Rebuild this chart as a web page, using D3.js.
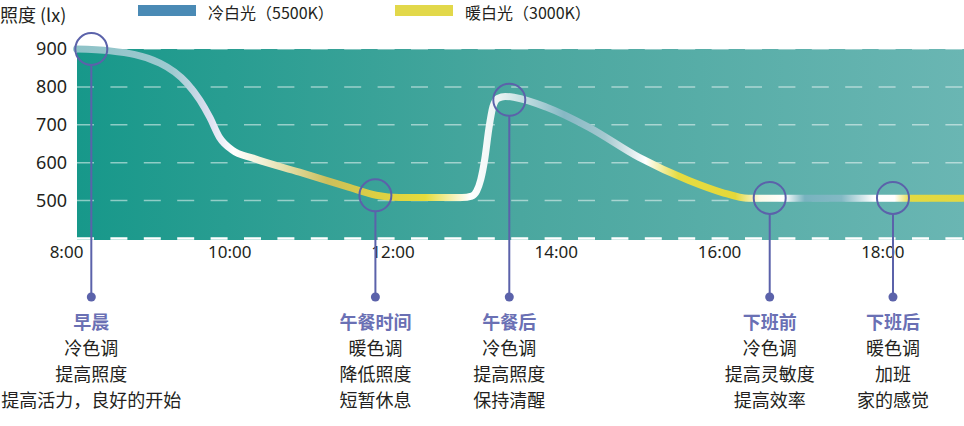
<!DOCTYPE html>
<html>
<head>
<meta charset="utf-8">
<script src="https://cdn.jsdelivr.net/npm/d3@7"></script>
<style>
    body { margin: 0; background: #fff; }
    svg { display: block; font-family: "Noto Sans CJK SC", "Noto Sans", sans-serif; }
</style>
</head>
<body>
<div id="chart"></div>
<script>
// illuminance curve over the working day (hour, lux)
var curveHours = [8.13, 8.54, 9.15, 9.48, 9.64, 9.76, 9.88, 10.04, 10.29, 10.86, 11.47, 11.8, 12.08, 12.85,
    12.97, 13.03, 13.08, 13.13, 13.18, 13.23, 13.29, 13.38, 13.5, 13.88, 14.4, 15.02, 15.63, 16.03, 16.36, 19];
var curveLux = [900, 895, 863, 810, 765, 720, 667, 633, 612, 575, 535, 514, 508, 508,
    512, 525, 555, 610, 690, 748, 770, 775, 772, 747, 694, 614, 553, 522, 506, 506];

var yTicks = [500, 600, 700, 800, 900];
var gridValues = [400, 500, 600, 700, 800, 900];
var xTicks = [8, 10, 12, 14, 16, 18];
var xTickLabels = ["8:00", "10:00", "12:00", "14:00", "16:00", "18:00"];

var legendLabels = ["冷白光（5500K）", "暖白光（3000K）"];

// markers on the curve and their notes
var noteHours = [8.31, 11.79, 13.43, 16.62, 18.13];
var noteLux = [900, 514, 766, 507, 507];
var noteTitles = ["早晨", "午餐时间", "午餐后", "下班前", "下班后"];
var noteLines = [
    ["冷色调", "提高照度", "提高活力，良好的开始"],
    ["暖色调", "降低照度", "短暂休息"],
    ["冷色调", "提高照度", "保持清醒"],
    ["冷色调", "提高灵敏度", "提高效率"],
    ["暖色调", "加班", "家的感觉"]
];

var width = 964, height = 426;
var plotLeft = 77, plotRight = 964, plotTop = 49, plotBottom = 240;

var svg = d3.select("#chart")
    .append("svg")
    .attr("width", width)
    .attr("height", height);

var x = d3.scaleLinear().domain([8, 19]).range([66, 964]);
var y = d3.scaleLinear().domain([400, 900]).range([238.5, 49]);

var defs = svg.append("defs");

// background teal gradient
var bg = defs.append("linearGradient")
    .attr("id", "bgGrad")
    .attr("x1", "0%").attr("x2", "100%").attr("y1", "0%").attr("y2", "0%");
bg.append("stop").attr("offset", "0%").attr("stop-color", "#17988a");
bg.append("stop").attr("offset", "50%").attr("stop-color", "#4aa79f");
bg.append("stop").attr("offset", "100%").attr("stop-color", "#6ab6b3");

// colour of the light along the curve (by hour)
var lineStops = [
    [8.1, "#8dc2c7"], [9.3, "#9ecad0"], [9.75, "#dcdff0"], [10.05, "#ffffff"], [10.4, "#f1f0d6"],
    [11.2, "#cbbf5c"], [11.8, "#dccf42"], [12.4, "#e6dc3c"], [12.95, "#ffffff"], [13.3, "#eaf3f3"],
    [13.6, "#c4dfe2"], [14.1, "#86b8c4"], [14.6, "#a4c8cf"], [15.1, "#ffffff"], [15.5, "#e6dc40"],
    [16.2, "#e4d83a"], [16.5, "#fbfae8"], [16.8, "#ffffff"], [17.05, "#78b3bf"], [17.5, "#83b9c4"],
    [17.9, "#ffffff"], [18.15, "#ffffff"], [18.35, "#e4da40"], [19, "#e2d840"]
];
var lg = defs.append("linearGradient")
    .attr("id", "lineGrad")
    .attr("gradientUnits", "userSpaceOnUse")
    .attr("x1", x(8)).attr("x2", x(19)).attr("y1", 0).attr("y2", 0);
lg.selectAll("stop")
    .data(lineStops)
    .enter()
    .append("stop")
    .attr("offset", function (d) { return ((d[0] - 8) / 11 * 100) + "%"; })
    .attr("stop-color", function (d) { return d[1]; });

svg.append("rect")
    .attr("x", plotLeft)
    .attr("y", plotTop)
    .attr("width", plotRight - plotLeft)
    .attr("height", plotBottom - plotTop)
    .attr("fill", "url(#bgGrad)");

// dashed grid
svg.selectAll(".grid")
    .data(gridValues)
    .enter()
    .append("line")
    .attr("class", "grid")
    .attr("x1", plotLeft)
    .attr("x2", plotRight)
    .attr("y1", function (d) { return y(d); })
    .attr("y2", function (d) { return y(d); })
    .attr("stroke", "#ffffff")
    .attr("stroke-opacity", function (d) { return d === 400 ? 1 : 0.5; })
    .attr("stroke-width", function (d) { return d === 400 ? 2.5 : 1.5; })
    .attr("stroke-dasharray", "17,16.4");

// y axis
var yAxis = svg.append("g")
    .attr("transform", "translate(67,0)")
    .call(d3.axisLeft(y).tickValues(yTicks).tickSize(0).tickPadding(0));
yAxis.select(".domain").remove();
yAxis.selectAll("text")
    .attr("font-size", 18)
    .attr("fill", "#231f20")
    .attr("font-family", "'Noto Sans', sans-serif");

svg.append("text")
    .attr("x", 0)
    .attr("y", 22)
    .attr("font-size", 18)
    .attr("fill", "#231f20")
    .text("照度 (lx)");

// x axis
var xAxis = svg.append("g")
    .attr("transform", "translate(0,246)")
    .call(d3.axisBottom(x).tickValues(xTicks)
        .tickFormat(function (d, i) { return xTickLabels[i]; })
        .tickSize(0).tickPadding(0));
xAxis.select(".domain").remove();
xAxis.selectAll("text")
    .attr("font-size", 17)
    .attr("fill", "#231f20")
    .attr("font-family", "'Noto Sans', sans-serif");

// legend
var legendColors = ["#4a8ab5", "#e2d84a"];
var legendX = [138, 395];
var legend = svg.selectAll(".legend")
    .data(legendLabels)
    .enter()
    .append("g")
    .attr("class", "legend")
    .attr("transform", function (d, i) { return "translate(" + legendX[i] + ",0)"; });
legend.append("rect")
    .attr("x", 0).attr("y", 5)
    .attr("width", 58).attr("height", 11)
    .attr("fill", function (d, i) { return legendColors[i]; });
legend.append("text")
    .attr("x", 70).attr("y", 18.5)
    .attr("font-size", 16)
    .attr("fill", "#231f20")
    .text(function (d) { return d; });

// the curve
var points = curveHours.map(function (h, i) { return [h, curveLux[i]]; });
var line = d3.line()
    .x(function (d) { return x(d[0]); })
    .y(function (d) { return y(d[1]); })
    .curve(d3.curveMonotoneX);

svg.append("path")
    .datum(points)
    .attr("d", line)
    .attr("fill", "none")
    .attr("stroke", "url(#lineGrad)")
    .attr("stroke-width", 7)
    .attr("stroke-linecap", "round")
    .attr("stroke-linejoin", "round");

// notes
var markColor = "#5b62aa";
var r = 16, dotY = 297;
var notes = svg.selectAll(".note")
    .data(noteTitles)
    .enter()
    .append("g")
    .attr("class", "note")
    .attr("transform", function (d, i) { return "translate(" + x(noteHours[i]) + ",0)"; });

notes.append("circle")
    .attr("cx", 0)
    .attr("cy", function (d, i) { return y(noteLux[i]); })
    .attr("r", r)
    .attr("fill", "none")
    .attr("stroke", markColor)
    .attr("stroke-width", 2);

notes.append("line")
    .attr("x1", 0).attr("x2", 0)
    .attr("y1", function (d, i) { return y(noteLux[i]) + r; })
    .attr("y2", dotY)
    .attr("stroke", markColor)
    .attr("stroke-width", 2);

notes.append("circle")
    .attr("cx", 0).attr("cy", dotY)
    .attr("r", 4.5)
    .attr("fill", markColor);

notes.append("text")
    .attr("x", 0).attr("y", 329)
    .attr("text-anchor", "middle")
    .attr("font-size", 18)
    .attr("font-weight", "bold")
    .attr("fill", "#6a70b4")
    .text(function (d) { return d; });

notes.each(function (d, i) {
    d3.select(this).selectAll(".noteLine")
        .data(noteLines[i])
        .enter()
        .append("text")
        .attr("class", "noteLine")
        .attr("x", 0)
        .attr("y", function (t, j) { return 355 + j * 26; })
        .attr("text-anchor", "middle")
        .attr("font-size", 18)
        .attr("fill", "#231f20")
        .text(function (t) { return t; });
});
</script>
</body>
</html>
